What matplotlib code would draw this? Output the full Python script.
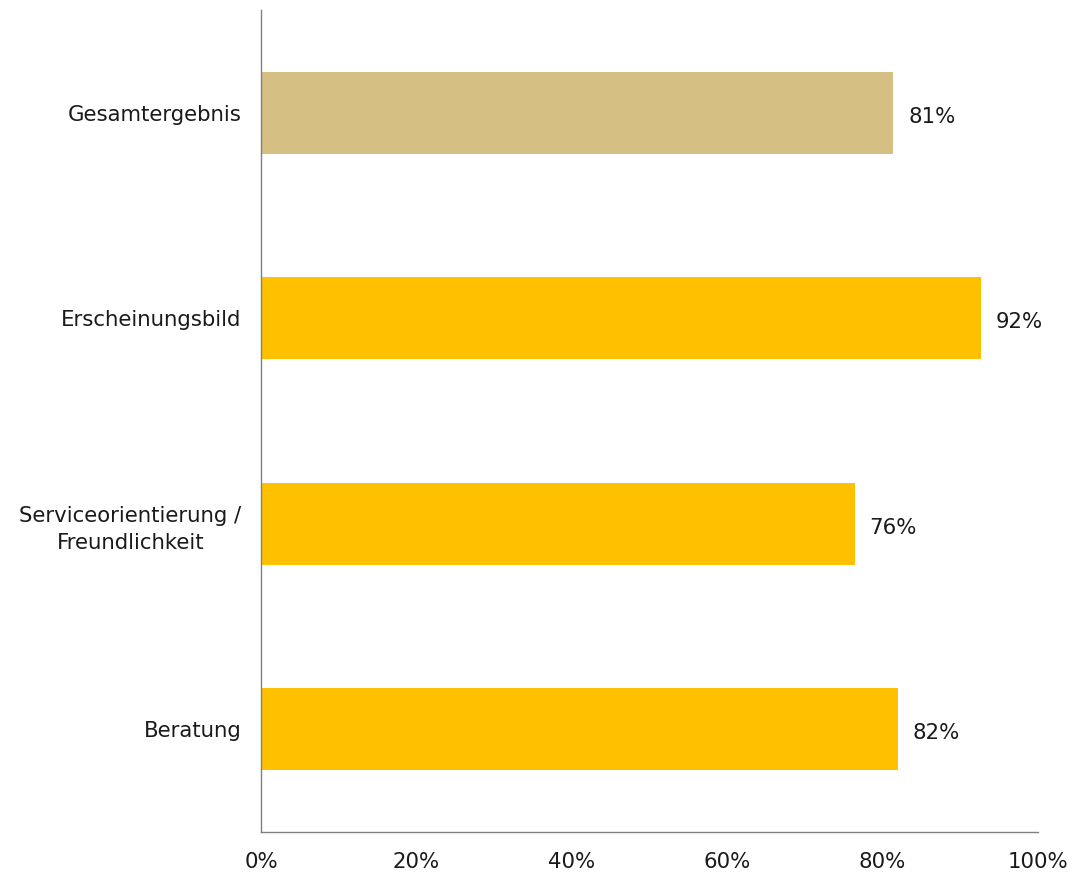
import matplotlib
matplotlib.use("Agg")
import matplotlib.pyplot as plt
from matplotlib.ticker import FuncFormatter

categories = ["Gesamtergebnis", "Erscheinungsbild", "Serviceorientierung /\nFreundlichkeit", "Beratung"]
values = [81.4, 92.6, 76.4, 82.0]
value_labels = ["81%", "92%", "76%", "82%"]
bar_colors = ["#D6BF83", "#FFC000", "#FFC000", "#FFC000"]
x_ticks = [0, 20, 40, 60, 80, 100]

FS = 15.3
TXT = "#1a1a1a"

fig = plt.figure(figsize=(10.75, 8.74), dpi=100)
ax = fig.add_axes([0.2428, 0.048, 0.7228, 0.9406])

pos = list(range(len(categories)))
ax.barh(pos, values, height=0.4, color=bar_colors)
for p, v, lab in zip(pos, values, value_labels):
    ax.text(v + 1.9, p + 0.02, lab, va="center", ha="left", fontsize=FS, color=TXT)

ax.set_xlim(0, 100)
ax.set_ylim(-0.5, len(categories) - 0.5)
ax.invert_yaxis()
ax.set_yticks(pos)
ax.set_yticklabels(categories, fontsize=FS, color=TXT, ha="right",
                   multialignment="center", linespacing=1.45)
ax.set_xticks(x_ticks)
ax.xaxis.set_major_formatter(FuncFormatter(lambda x, _: f"{int(x)}%"))
ax.tick_params(axis="x", length=0, pad=14.5, labelsize=FS, labelcolor=TXT)
ax.tick_params(axis="y", length=0, pad=14)

for s in ["top", "right"]:
    ax.spines[s].set_visible(False)
for s in ["left", "bottom"]:
    ax.spines[s].set_color("#808080")
    ax.spines[s].set_linewidth(1.0)

fig.savefig("out.png", dpi=100)
